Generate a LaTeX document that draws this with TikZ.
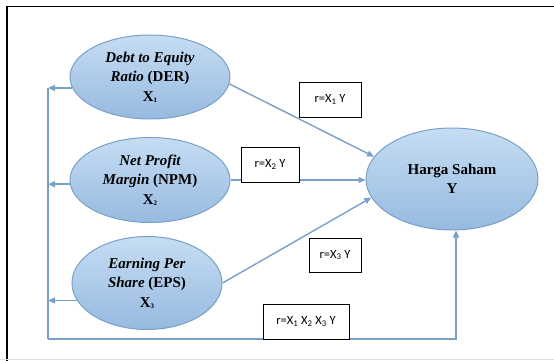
\documentclass[tikz,border=0pt]{standalone}
\usepackage{fontspec}
\setmainfont{Liberation Serif}
\newfontfamily\boxfont{Carlito}
\usetikzlibrary{shapes.geometric,arrows.meta}
\definecolor{edgeblue}{RGB}{122,160,200}
\definecolor{filltop}{RGB}{198,221,243}
\definecolor{fillbot}{RGB}{150,186,224}
\newcommand{\varX}[1]{\textbf{X}\raisebox{-1pt}{\scriptsize #1}}
\newcommand{\boxX}[1]{X\textsubscript{#1}}

\begin{document}
\begin{tikzpicture}[x=1pt,y=-1pt,
  var/.style={ellipse,draw=edgeblue,line width=1pt,top color=filltop,bottom color=fillbot,
    align=center,inner sep=0pt,font=\fontsize{15}{19.5}\selectfont\bfseries},
  link/.style={draw=edgeblue,line width=1.4pt,-{Triangle[length=7pt,width=6pt]}},
  rbox/.style={draw,fill=white,line width=0.7pt,minimum height=35pt,inner sep=0pt,
    font=\boxfont\fontsize{12.5}{14}\selectfont}]
\useasboundingbox (0,0) rectangle (554,361);
\draw [line width=1.2pt] (7,6.5) -- (554,6.5);
\draw [line width=1.2pt] (7,6.5) -- (7,361);
\draw [black!12,line width=1pt] (0,359.5) -- (554,359.5);

\node [var,minimum width=160pt,minimum height=84pt] (x1) at (150,77)
  {\itshape Debt to Equity\\\itshape Ratio \upshape (DER)\\\varX{1}};
\node [var,minimum width=160pt,minimum height=85pt] (x2) at (150,180)
  {\itshape Net Profit\\\itshape Margin \upshape (NPM)\\\varX{2}};
\node [var,minimum width=150pt,minimum height=93pt] (x3) at (147,283)
  {\itshape Earning Per\\\itshape Share \upshape (EPS)\\\varX{3}};
\node [var,minimum width=172pt,minimum height=102pt] (y) at (452,179)
  {Harga Saham\\Y};

\coordinate (lp) at (48,339);
\draw [link] (x1.-5) -- (y.164);
\draw [link] (x2.east) -- (x2.east -| y.west);
\draw [link] (x3.east) -- (y.193);
\foreach \a/\v in {188/x1,183/x2,194/x3}
  \draw [link] (\v.\a) -- (\v.\a -| lp);
\draw [edgeblue,line width=1.4pt] (x1.188 -| lp) -- (lp);
\draw [link] (lp) -| ([xshift=4pt]y.south);

\node [rbox,minimum width=62pt] (r1) at (330,99.5) {r=\boxX{1} Y};
\node [rbox,minimum width=58pt] (r2) at (270,164.5) {r=\boxX{2} Y};
\node [rbox,minimum width=52pt,minimum height=34pt] (r3) at (335,255) {r=\boxX{3} Y};
\node [rbox,minimum width=86pt] (r4) at (306,321.5) {r=\boxX{1} \boxX{2} \boxX{3} Y};
\end{tikzpicture}
\end{document}
